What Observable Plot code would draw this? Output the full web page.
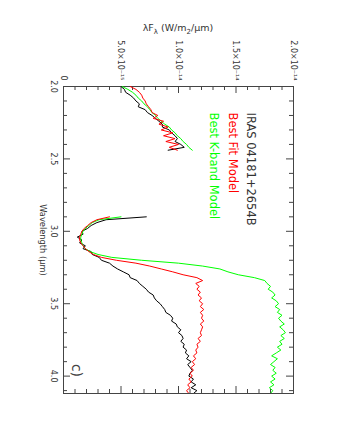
<!DOCTYPE html>
<html><head><meta charset="utf-8">
<script src="https://cdn.jsdelivr.net/npm/d3@7"></script>
<script src="https://cdn.jsdelivr.net/npm/@observablehq/plot@0.6"></script>
<style>html,body{margin:0;padding:0;background:#fff}svg{display:block}</style>
</head><body><div id="chart"></div>
<script>
// Wavelength grids (micron)
const lamK = [2.00,2.02,2.04,2.06,2.08,2.10,2.12,2.14,2.16,2.18,2.20,2.22,2.24,2.26,2.28,2.30,2.32,2.34,2.36,2.38,2.40,2.42,2.44];
const lamL = [2.90,2.92,2.94,2.96,2.98,3.00,3.02,3.04,3.06,3.08,3.10,3.12,3.14,3.16,3.18,3.20,3.22,3.24,3.26,3.28,3.30,3.32,3.34,3.36,3.38,3.40,3.42,3.44,3.46,3.48,3.50,3.52,3.54,3.56,3.58,3.60,3.62,3.64,3.66,3.68,3.70,3.72,3.74,3.76,3.78,3.80,3.82,3.84,3.86,3.88,3.90,3.92,3.94,3.96,3.98,4.00,4.02,4.04,4.06,4.08,4.10,4.12];
// Flux values in units of 1e-14 W/m2/um
const blackK = [0.50,0.53,0.54,0.58,0.61,0.63,0.66,0.65,0.71,0.73,0.77,0.80,0.83,0.86,0.86,0.92,0.94,0.97,0.99,0.97,1.02,1.05,0.91];
const greenK = [0.51,0.56,0.60,0.63,0.65,0.68,0.70,0.73,0.75,0.77,0.80,0.82,0.85,0.88,0.92,0.94,0.97,0.99,1.02,1.04,1.07,1.09,1.12];
const redK   = [0.58,0.63,0.66,0.68,0.69,0.71,0.72,0.74,0.76,0.77,0.82,0.78,0.87,0.83,0.91,0.85,0.95,0.87,0.97,0.89,1.00,0.92,0.99];
const blackL = [0.72,0.37,0.29,0.24,0.21,0.16,0.17,0.12,0.16,0.14,0.19,0.17,0.24,0.25,0.31,0.33,0.40,0.43,0.47,0.52,0.57,0.58,0.64,0.66,0.69,0.72,0.74,0.78,0.79,0.81,0.84,0.86,0.88,0.89,0.93,0.95,0.94,0.98,0.99,1.02,1.00,1.03,1.04,1.02,1.05,1.04,1.07,1.06,1.09,1.07,1.11,1.08,1.10,1.12,1.10,1.09,1.13,1.11,1.15,1.11,1.16,1.13];
const redL   = [0.40,0.29,0.24,0.21,0.18,0.16,0.15,0.14,0.14,0.15,0.17,0.19,0.22,0.26,0.33,0.46,0.63,0.75,0.85,0.95,1.04,1.16,1.21,1.15,1.18,1.16,1.19,1.17,1.20,1.18,1.21,1.19,1.22,1.19,1.21,1.20,1.22,1.19,1.21,1.20,1.19,1.20,1.17,1.19,1.16,1.17,1.15,1.16,1.13,1.15,1.12,1.14,1.11,1.13,1.10,1.12,1.09,1.11,1.08,1.10,1.07,1.09];
const greenL = [0.50,0.31,0.25,0.22,0.19,0.17,0.16,0.15,0.15,0.16,0.17,0.19,0.23,0.30,0.42,0.68,1.00,1.21,1.36,1.43,1.52,1.66,1.75,1.77,1.80,1.78,1.82,1.84,1.81,1.85,1.87,1.84,1.88,1.86,1.90,1.87,1.89,1.92,1.88,1.91,1.93,1.89,1.92,1.88,1.90,1.86,1.89,1.85,1.81,1.86,1.83,1.80,1.84,1.82,1.85,1.81,1.84,1.80,1.83,1.79,1.82,1.80];

// Ticks
const fluxMajor = [0, 5e-15, 1e-14, 1.5e-14, 2e-14];
const fluxMajorLabels = ["0", "5.0×10⁻¹⁵", "1.0×10⁻¹⁴", "1.5×10⁻¹⁴", "2.0×10⁻¹⁴"];
const fluxMinor = [1e-15,2e-15,3e-15,4e-15,6e-15,7e-15,8e-15,9e-15,1.1e-14,1.2e-14,1.3e-14,1.4e-14,1.6e-14,1.7e-14,1.8e-14,1.9e-14];
const lamMajor = [2.0, 2.5, 3.0, 3.5, 4.0];
const lamMajorLabels = ["2.0", "2.5", "3.0", "3.5", "4.0"];
const lamMinor = [2.1,2.2,2.3,2.4,2.6,2.7,2.8,2.9,3.1,3.2,3.3,3.4,3.6,3.7,3.8,3.9,4.1];

const legendLabels = ["IRAS 04181+2654B", "Best Fit Model", "Best K-band Model"];
const legendColors = ["#333333", "#ff0000", "#00ff00"];
const panelLabel = "c)";
const xLabel = "Wavelength (μm)";

const rows = (lam, f) => lam.map((l, i) => ({lam: l, flux: f[i] * 1e-14}));

const W = 340, H = 440, mL = 63, mR = 47, mT = 86, mB = 47;
const frameW = W - mL - mR, frameH = H - mT - mB;
const axisColor = "#444";
const major = 7, minor = 4;
const legendDx = [-43, -61, -80];

const lineOpts = (color) => ({x: "flux", y: "lam", stroke: color, strokeWidth: 1, clip: true});

const legendMarks = legendLabels.map((lab, i) =>
  Plot.text([lab], {frameAnchor: "top-right", dx: legendDx[i], dy: 26, rotate: 90,
    textAnchor: "start", lineAnchor: "middle", text: d => d, fill: legendColors[i], fontSize: 11.5}));

const plot = Plot.plot({
  width: W, height: H,
  marginLeft: mL, marginRight: mR, marginTop: mT, marginBottom: mB,
  style: {fontFamily: "DejaVu Sans", fontSize: "8px", background: "#fff", color: "#333"},
  x: {domain: [0, 2e-14], axis: null},
  y: {domain: [2.0, 4.12], reverse: true, axis: null},
  marks: [
    Plot.frame({stroke: axisColor}),
    // top ticks (inward)
    Plot.tickX(fluxMinor, {x: d => d, insetBottom: frameH - minor, stroke: axisColor}),
    Plot.tickX(fluxMajor, {x: d => d, insetBottom: frameH - major, stroke: axisColor}),
    // bottom ticks
    Plot.tickX(fluxMinor, {x: d => d, insetTop: frameH - minor, stroke: axisColor}),
    Plot.tickX(fluxMajor, {x: d => d, insetTop: frameH - major, stroke: axisColor}),
    // left ticks
    Plot.tickY(lamMinor, {y: d => d, insetRight: frameW - minor, stroke: axisColor}),
    Plot.tickY(lamMajor, {y: d => d, insetRight: frameW - major, stroke: axisColor}),
    // right ticks
    Plot.tickY(lamMinor, {y: d => d, insetLeft: frameW - minor, stroke: axisColor}),
    Plot.tickY(lamMajor, {y: d => d, insetLeft: frameW - major, stroke: axisColor}),
    // tick labels
    Plot.text(fluxMajor, {x: d => d, frameAnchor: "top", dy: -6, rotate: 90, textAnchor: "end", lineAnchor: "middle",
      text: (d, i) => fluxMajorLabels[i], fill: "#333", fontSize: 8}),
    Plot.text(lamMajor, {y: d => d, frameAnchor: "left", dx: -10, rotate: 90, textAnchor: "middle", lineAnchor: "middle",
      text: (d, i) => lamMajorLabels[i], fill: "#333", fontSize: 8}),
    Plot.text([xLabel], {frameAnchor: "left", dx: -21, rotate: 90, textAnchor: "middle", lineAnchor: "middle",
      text: d => d, fill: "#333", fontSize: 8.3}),
    // data
    Plot.line(rows(lamK, blackK), lineOpts("#000")),
    Plot.line(rows(lamL, blackL), lineOpts("#000")),
    Plot.line(rows(lamK, greenK), lineOpts("#00ff00")),
    Plot.line(rows(lamL, greenL), lineOpts("#00ff00")),
    Plot.line(rows(lamK, redK), lineOpts("#ff0000")),
    Plot.line(rows(lamL, redL), lineOpts("#ff0000")),
    // legend
    ...legendMarks,
    Plot.text([panelLabel], {frameAnchor: "bottom-left", dx: 13, dy: -23, rotate: 90, textAnchor: "middle", lineAnchor: "middle",
      text: d => d, fill: "#444", fontSize: 14})
  ]
});

// title with subscripts
const svg = d3.select(plot);
const title = svg.append("text")
  .attr("x", mL + frameW / 2).attr("y", 31)
  .attr("text-anchor", "middle")
  .attr("font-family", "DejaVu Sans").attr("font-size", 9.5).attr("fill", "#333");
title.append("tspan").text("λF");
title.append("tspan").attr("dy", 2.5).attr("font-size", 7).text("λ");
title.append("tspan").attr("dy", -2.5).text(" (W/m");
title.append("tspan").attr("dy", 2.5).attr("font-size", 7).text("2");
title.append("tspan").attr("dy", -2.5).text("/μm)");

document.getElementById("chart").appendChild(plot);
</script>
</body></html>
